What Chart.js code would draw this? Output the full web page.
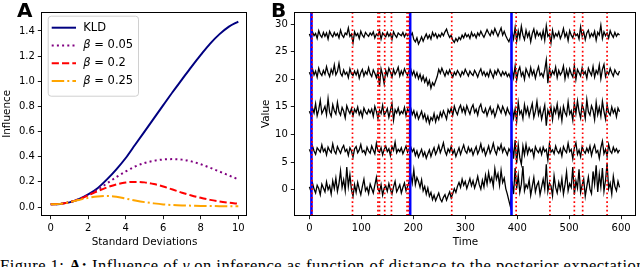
<!DOCTYPE html>
<html>
<head>
<meta charset="utf-8">
<script src="https://cdn.jsdelivr.net/npm/chart.js@4.4.0/dist/chart.umd.min.js"></script>
<style>
  html, body { margin: 0; padding: 0; background: #fff; }
  #wrap { position: relative; width: 640px; height: 267px; overflow: hidden; font-family: "DejaVu Sans", sans-serif; }
  #chartA { position: absolute; left: 0; top: 0; }
  #chartB { position: absolute; left: 250px; top: 0; }
  .panel { position: absolute; top: 0; font-weight: bold; font-size: 20px; line-height: 1; }
  #caption { position: absolute; left: 0; top: 258px; font-family: "Liberation Serif", serif; font-size: 16.5px; line-height: 1; white-space: nowrap; }
</style>
</head>
<body>
<div id="wrap">
  <canvas id="chartA" width="250" height="252"></canvas>
  <canvas id="chartB" width="390" height="252"></canvas>
  <div class="panel" style="left:17px">A</div>
  <div class="panel" style="left:271px">B</div>
  <div id="caption">Figure 1: <b>A:</b> Influence of <i>γ</i> on inference as function of distance to the posterior expectation</div>
</div>
<script>
// panel A: influence vs distance
const sd = [0, 0.5, 1, 1.5, 2, 2.5, 3, 3.5, 4, 4.5, 5, 5.5, 6, 6.5, 7, 7.5, 8, 8.5, 9, 9.5, 10];
const kld = [0.022, 0.025, 0.037, 0.062, 0.10, 0.15, 0.22, 0.30, 0.39, 0.495, 0.60, 0.705, 0.81, 0.915, 1.015, 1.115, 1.21, 1.30, 1.375, 1.435, 1.475];
const beta005 = [0.022, 0.025, 0.038, 0.062, 0.096, 0.138, 0.188, 0.238, 0.283, 0.322, 0.35, 0.368, 0.378, 0.381, 0.377, 0.363, 0.34, 0.312, 0.282, 0.251, 0.22];
const beta02 = [0.022, 0.025, 0.038, 0.061, 0.093, 0.126, 0.156, 0.18, 0.195, 0.20, 0.196, 0.183, 0.163, 0.139, 0.114, 0.092, 0.073, 0.057, 0.044, 0.034, 0.026];
const beta025 = [0.022, 0.025, 0.038, 0.056, 0.073, 0.084, 0.088, 0.081, 0.067, 0.052, 0.039, 0.029, 0.021, 0.016, 0.013, 0.011, 0.009, 0.008, 0.007, 0.006, 0.006];

// panel B: five time series, sampled every 3 steps
const timeStep = 3;
const series0 = [
  0.5,-0.3,1.2,0.1,-0.6,0.8,0.2,-0.9,1.0,0.3, -0.4,1.4,0.0,0.7,-0.8,1.6,0.2,2.1,-0.3,1.1,
  3.4,0.4,1.8,-0.2,4.1,0.6,2.7,0.0,-1.2,0.9, -0.5,1.3,0.1,-0.9,0.6,1.9,-0.2,0.4,-0.7,1.0,
  0.2,-0.6,0.8,2.2,0.1,-0.4,0.9,-1.0,0.3,0.7, -0.3,1.1,0.0,-0.8,0.5,1.5,-0.4,0.2,0.9,-0.6,
  0.4,1.2,-0.2,0.6,1.4,
  2.8,1.2,3.6,0.9,2.2,1.5,0.4,1.8,-0.2,0.6, -0.8,0.3,-1.2,-0.5,-1.8,-1.0,-2.0,-1.3,-0.6,-1.7,
  -2.2,-1.4,-0.9,-1.9,-1.1,-0.4,-1.5,-0.7,0.2,-0.5, 0.6,1.3,0.4,1.9,0.8,1.5,0.2,1.1,2.0,0.7,
  1.6,0.3,1.2,2.4,0.9,0.1,1.7,0.5,2.6,1.0, 3.1,1.4,2.2,0.6,3.8,1.9,2.9,0.8,3.5,1.3,
  2.1,0.2,-0.8,-2.0,-3.1,
  1.5,-0.8,3.9,0.2,2.6,-0.5,1.0,4.3,-0.2,0.9, 0.3,1.8,-1.0,0.6,2.2,-0.4,0.8,1.4,-0.9,0.5,
  1.9,0.1,4.6,-0.3,1.2,0.7,-1.1,2.5,0.4,-0.6, 1.3,0.0,2.0,-0.8,0.9,3.2,-0.2,1.1,0.4,4.1,
  -0.9,1.6,0.3,3.7,-0.5,0.8,1.9,-1.2,0.6,2.3, 0.1,-0.7,3.3,1.0,4.4,-0.4,2.8,0.5,3.9,-0.3,
  1.7,4.8,0.2,1.2,-0.8,2.4,0.6,-0.2,1.5,0.4
];
const series1 = [
  7.3,6.6,7.9,7.0,6.4,7.6,7.2,6.8,8.1,6.9, 7.4,6.3,7.7,7.1,6.7,8.3,7.0,6.5,7.8,7.2,
  6.6,7.5,8.0,6.9,7.3,6.2,7.6,7.0,5.9,7.4, 7.8,6.7,7.2,8.2,6.8,7.1,6.4,7.7,7.0,6.6,
  7.9,7.2,6.5,8.4,7.0,6.8,7.6,6.3,7.3,7.9, 6.9,7.4,6.2,7.8,7.1,8.6,6.7,7.3,6.9,7.6,
  6.5,7.2,7.9,6.8,7.4,
  7.8,6.9,7.4,6.2,7.0,5.9,6.6,7.3,6.1,6.8, 5.7,6.5,7.2,6.0,6.9,7.6,6.4,7.1,8.0,6.7,
  7.5,8.5,7.0,6.3,7.4,6.8,7.9,6.5,7.2,6.0, 6.8,7.6,6.4,7.3,8.1,7.0,6.6,7.7,6.9,7.4,
  6.3,7.1,7.8,6.5,7.2,8.3,6.9,7.5,6.2,7.0, 7.9,6.6,7.3,8.4,7.1,6.4,7.7,7.2,8.2,6.8,
  7.6,7.0,6.3,7.4,6.9,
  8.4,5.6,9.0,4.8,8.1,5.8,4.6,7.9,6.3,8.2, 6.5,7.6,6.9,7.3,5.9,7.8,7.1,6.7,7.5,6.4,
  7.7,6.9,7.3,5.4,8.3,6.8,7.2,6.5,7.9,7.0, 6.6,7.4,6.1,7.8,7.1,6.7,8.4,6.9,7.3,5.6,
  7.6,8.5,6.4,7.2,6.0,7.8,7.0,6.6,7.5,6.8, 7.9,6.2,7.4,8.1,6.7,7.1,5.7,7.6,8.8,6.5,
  7.3,6.0,8.2,7.0,6.6,7.7,6.9,7.4,6.7,7.2
];
const series2 = [
  14.2,13.5,14.8,13.9,15.6,13.4,14.5,16.2,13.8,14.4, 15.1,13.6,16.5,14.0,13.3,15.4,14.3,13.7,15.8,14.1,
  13.5,14.9,14.2,13.0,15.2,14.4,13.8,14.7,13.4,14.6, 14.0,15.0,13.6,14.3,13.2,14.8,14.1,13.7,14.5,13.9,
  14.6,13.3,15.1,14.2,12.9,14.4,13.8,15.3,13.5,14.0, 14.7,13.1,14.3,15.6,12.6,14.5,13.9,14.8,13.6,14.2,
  13.8,14.9,13.4,14.6,14.1,
  14.8,13.6,14.3,13.1,14.0,12.8,13.5,14.2,12.9,13.7, 12.4,13.3,12.0,13.1,12.6,13.8,12.3,13.4,12.7,14.0,
  13.2,14.3,13.6,12.8,14.5,13.9,14.8,13.5,15.1,14.2, 13.6,14.7,15.3,14.1,14.9,13.8,15.2,14.4,13.7,14.8,
  15.4,14.0,14.6,13.5,14.9,15.5,14.2,13.9,14.7,13.4, 14.3,15.0,13.8,14.5,13.2,14.1,15.3,14.6,13.9,15.1,
  14.4,13.6,14.8,14.0,13.5,
  15.2,13.0,14.6,12.4,15.8,13.7,14.3,12.9,15.4,13.8, 14.9,13.3,14.5,15.6,13.1,14.2,16.0,13.6,14.7,12.8,
  14.1,15.3,11.6,14.4,13.5,15.0,12.7,14.8,13.9,15.5, 13.2,14.6,12.5,15.1,14.0,13.4,15.9,13.7,14.3,12.6,
  15.7,13.8,16.1,14.2,13.0,15.4,14.5,12.9,16.3,14.1, 13.5,15.2,14.4,12.7,15.8,13.6,14.9,13.3,16.0,14.2,
  12.8,15.4,14.0,13.5,15.0,13.9,14.6,13.2,14.8,14.1
];
const series3 = [
  21.3,20.6,21.9,20.8,21.5,20.4,22.0,21.1,20.7,21.6, 20.9,22.3,21.2,20.5,21.8,21.0,22.6,20.8,21.4,22.9,
  21.1,20.6,21.7,20.9,21.3,20.3,21.9,21.0,20.7,21.5, 20.8,21.6,20.2,21.2,21.8,20.6,21.4,20.9,22.1,21.0,
  20.5,21.7,21.1,20.3,21.5,18.7,21.9,20.8,19.2,21.6, 20.7,22.0,21.3,20.4,21.8,20.9,21.4,22.2,20.6,21.5,
  20.8,21.9,21.2,20.7,21.6,
  21.9,20.8,21.5,20.4,21.2,20.1,20.9,19.8,20.6,19.5, 20.2,19.0,19.8,18.4,19.4,18.9,19.7,20.5,21.8,21.1,
  22.0,21.3,20.6,21.5,20.9,21.7,21.0,20.4,21.3,20.8, 21.6,21.1,20.5,21.4,20.9,21.8,21.2,20.6,21.5,21.0,
  20.7,21.6,21.1,20.4,21.3,21.9,20.8,21.4,20.6,21.2, 20.5,21.7,21.0,20.3,21.5,20.9,21.8,21.2,20.6,21.4,
  20.8,21.3,20.5,21.0,20.2,
  21.8,20.3,22.4,19.9,21.5,22.2,20.6,21.3,20.0,21.9, 21.2,20.5,22.1,20.8,21.6,20.2,21.4,22.3,20.7,21.1,
  20.4,21.7,23.5,19.3,22.0,20.6,21.5,20.9,22.2,20.3, 21.6,20.8,21.3,22.4,20.1,21.7,20.5,21.9,21.0,20.4,
  22.5,20.0,21.8,21.2,20.6,22.1,20.9,21.4,20.2,22.0, 21.3,20.7,22.3,20.4,21.6,21.0,22.6,20.1,21.8,22.7,
  20.5,21.4,20.9,22.0,21.2,20.6,21.7,21.1,20.8,21.5
];
const series4 = [
  28.2,27.5,28.6,27.9,28.3,27.4,28.8,28.0,27.6,28.5, 27.8,28.4,27.3,28.7,28.1,27.7,28.5,27.9,28.3,27.5,
  28.9,28.0,27.6,28.4,28.1,29.3,27.8,28.2,26.6,28.6, 27.9,28.3,27.4,28.7,28.0,27.6,28.5,28.1,27.8,28.4,
  28.0,28.6,27.5,28.2,27.9,28.8,27.3,28.4,28.0,27.7, 28.5,27.8,28.3,27.2,28.6,28.0,27.6,28.4,28.1,27.9,
  28.5,27.7,28.3,27.9,28.2,
  27.9,28.4,27.2,26.8,27.5,26.4,27.0,27.7,26.9,27.6, 28.2,27.4,28.0,27.3,28.5,27.8,28.3,27.5,28.1,27.7,
  28.4,27.9,28.6,29.1,28.2,27.6,28.0,27.1,26.7,27.4, 26.9,27.6,27.2,28.0,27.5,28.3,27.7,28.1,27.4,28.5,
  27.8,28.2,27.5,28.4,27.9,28.7,28.1,27.6,28.3,29.0, 28.4,27.9,28.8,28.2,29.2,28.5,27.8,28.6,29.3,28.0,
  28.7,27.9,27.3,26.8,27.6,
  28.6,27.3,29.4,26.9,28.8,27.5,29.6,28.0,27.2,28.9, 27.7,28.5,26.8,28.3,29.1,27.6,28.7,27.9,28.4,27.4,
  28.8,27.1,29.7,27.8,28.2,26.6,28.9,27.5,28.3,27.8, 28.6,27.4,28.1,29.2,27.7,28.4,27.0,28.8,28.0,27.5,
  28.5,27.9,28.2,27.3,29.5,27.8,28.6,27.2,28.4,28.9, 27.6,28.3,27.8,28.7,27.1,28.5,28.0,29.8,27.4,28.6,
  27.9,28.4,27.5,28.8,28.1,27.6,28.5,27.8,28.3,28.0
];
const blueLines = [4, 194, 389];
const redLines = [5, 83, 132, 135, 145, 158, 188, 191, 274, 398, 463, 510, 526, 573];

const font = 'DejaVu Sans';
const pts = ys => ys.map((y, i) => ({ x: sd[i], y }));
const tpts = ys => ys.map((y, i) => ({ x: i * timeStep, y }));

const frame = {
  id: 'frame',
  afterDatasetsDraw(chart) {
    const { ctx, chartArea: a } = chart;
    ctx.save();
    ctx.strokeStyle = '#000';
    ctx.lineWidth = 1;
    ctx.strokeRect(Math.round(a.left) + 0.5, Math.round(a.top) + 0.5,
      Math.round(a.right - a.left) - 1, Math.round(a.bottom - a.top) - 1);
    ctx.restore();
  }
};

const legendBox = {
  id: 'legendBox',
  afterDraw(chart) {
    const { ctx, chartArea: a } = chart;
    const x0 = a.left + 6.4, y0 = a.top + 3.7, w = 90.3, h = 80;
    ctx.save();
    ctx.beginPath();
    ctx.roundRect(x0 + 0.5, y0 + 0.5, w, h, 3);
    ctx.fillStyle = 'rgba(255,255,255,0.8)';
    ctx.fill();
    ctx.strokeStyle = '#d0d0d0';
    ctx.lineWidth = 1;
    ctx.stroke();
    chart.data.datasets.forEach((ds, i) => {
      const cy = a.top + 15.7 + i * 17.8;
      ctx.strokeStyle = ds.borderColor;
      ctx.lineWidth = ds.borderWidth;
      ctx.setLineDash(ds.borderDash || []);
      ctx.beginPath();
      ctx.moveTo(a.left + 10.4, cy);
      ctx.lineTo(a.left + 34.7, cy);
      ctx.stroke();
      ctx.setLineDash([]);
      ctx.fillStyle = '#000';
      ctx.textBaseline = 'middle';
      let tx = a.left + 42;
      let txt = ds.label;
      if (txt.startsWith('β')) {
        ctx.font = `italic 11.5px "${font}"`;
        ctx.fillText('β', tx, cy);
        tx += ctx.measureText('β').width;
        txt = txt.slice(1);
      }
      ctx.font = `11.5px "${font}"`;
      ctx.fillText(txt, tx, cy);
    });
    ctx.restore();
  }
};

const markers = {
  id: 'markers',
  afterDatasetsDraw(chart) {
    const { ctx, chartArea: a, scales: { x } } = chart;
    ctx.save();
    ctx.beginPath();
    ctx.rect(a.left, a.top, a.right - a.left, a.bottom - a.top);
    ctx.clip();
    ctx.strokeStyle = '#0000ff';
    ctx.lineWidth = 2.6;
    blueLines.forEach(t => {
      const px = x.getPixelForValue(t);
      ctx.beginPath(); ctx.moveTo(px, a.top); ctx.lineTo(px, a.bottom); ctx.stroke();
    });
    ctx.strokeStyle = '#ff0000';
    ctx.lineWidth = 1.7;
    ctx.setLineDash([1.7, 2.6]);
    redLines.forEach(t => {
      const px = x.getPixelForValue(t);
      ctx.beginPath(); ctx.moveTo(px, a.top); ctx.lineTo(px, a.bottom); ctx.stroke();
    });
    ctx.restore();
  }
};

function axis(extra) {
  return Object.assign({
    type: 'linear',
    grid: { drawOnChartArea: false, color: '#000', tickColor: '#000', tickLength: 3.5, tickWidth: 0.9 },
    border: { display: false },
  }, extra);
}
const tickFont = { family: font, size: 10 };
const titleFont = { family: font, size: 10.4 };

new Chart(document.getElementById('chartA'), {
  type: 'line',
  data: {
    datasets: [
      { label: 'KLD', data: pts(kld), borderColor: '#000080', borderWidth: 2, order: 4 },
      { label: 'β = 0.05', data: pts(beta005), borderColor: '#800080', borderWidth: 2, borderDash: [2, 3.2], order: 3 },
      { label: 'β = 0.2', data: pts(beta02), borderColor: '#ff0000', borderWidth: 2, borderDash: [7.2, 3.1], order: 2 },
      { label: 'β = 0.25', data: pts(beta025), borderColor: '#ffa500', borderWidth: 2, borderDash: [12.5, 3.1, 2, 3.1], order: 1 }
    ]
  },
  options: {
    responsive: false,
    animation: false,
    events: [],
    layout: { padding: { top: 12, right: 2.3, left: 0, bottom: 0 } },
    elements: { point: { radius: 0 }, line: { cubicInterpolationMode: 'monotone', fill: false } },
    plugins: { legend: { display: false }, tooltip: { enabled: false } },
    scales: {
      x: axis({
        min: -0.5, max: 10.5,
        ticks: { stepSize: 2, includeBounds: false, color: '#000', font: tickFont, padding: 3, maxRotation: 0 },
        title: { display: true, text: 'Standard Deviations', color: '#000', font: titleFont, padding: { top: 0, bottom: 3.8 } },
        afterFit(s) { s.height = 36.3; }
      }),
      y: axis({
        min: -0.069, max: 1.551,
        ticks: { stepSize: 0.2, includeBounds: false, color: '#000', font: tickFont, padding: 3, callback: v => v.toFixed(1) },
        title: { display: true, text: 'Influence', color: '#000', font: titleFont, padding: { top: 1.3, bottom: 0 } },
        afterFit(s) { s.width = 41.3; }
      })
    }
  },
  plugins: [frame, legendBox]
});

new Chart(document.getElementById('chartB'), {
  type: 'line',
  data: {
    datasets: [series0, series1, series2, series3, series4].map((s, i) => ({
      label: 'series ' + i, data: tpts(s), borderColor: '#000', borderWidth: 1.3
    }))
  },
  options: {
    responsive: false,
    animation: false,
    events: [],
    layout: { padding: { top: 12, right: 3.3, left: 0, bottom: 0 } },
    elements: { point: { radius: 0 }, line: { tension: 0, fill: false } },
    plugins: { legend: { display: false }, tooltip: { enabled: false } },
    scales: {
      x: axis({
        min: -29, max: 630,
        ticks: { stepSize: 100, includeBounds: false, color: '#000', font: tickFont, padding: 3, maxRotation: 0 },
        title: { display: true, text: 'Time', color: '#000', font: titleFont, padding: { top: 0, bottom: 3.8 } },
        afterFit(s) { s.height = 36.3; }
      }),
      y: axis({
        min: -4.72, max: 32.2,
        ticks: { stepSize: 5, includeBounds: false, color: '#000', font: tickFont, padding: 3 },
        title: { display: true, text: 'Value', color: '#000', font: titleFont, padding: { top: 9.8, bottom: 0 } },
        afterFit(s) { s.width = 44.3; }
      })
    }
  },
  plugins: [markers, frame]
});

// stretch the caption line to the page width
const cap = document.getElementById('caption');
const capWidth = cap.getBoundingClientRect().width;
cap.style.letterSpacing = ((645 - capWidth) / cap.textContent.length) + 'px';
</script>
</body>
</html>
